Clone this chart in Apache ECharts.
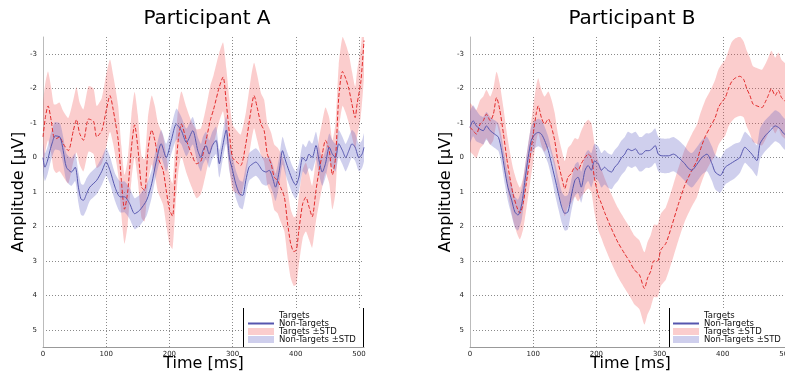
<!DOCTYPE html>
<html>
<head>
<meta charset="utf-8">
<script src="https://cdn.jsdelivr.net/npm/echarts@6/dist/echarts.min.js"></script>
<style>
  html, body { margin: 0; padding: 0; background: #fff; }
  #chart { width: 785px; height: 372px; }
</style>
</head>
<body>
<div id="chart"></div>
<script>
// tick values
const xTicks = [0, 100, 200, 300, 400, 500]
const yTicks = [-3, -2, -1, 0, 1, 2, 3, 4, 5]

// rows: [time ms, mean µV, std µV]
const targetsA = [
  [0, -0.6, 0.95], [4, -1.2, 1.0], [8, -1.5, 1.0], [13, -1.07, 0.95], [17, -0.6, 0.95], [21, -0.55, 1.0],
  [26, -0.6, 1.0], [32, -0.4, 0.95], [40, -0.2, 0.95], [48, -0.78, 0.9], [53, -1.1, 0.95], [58, -0.7, 0.9],
  [64, -0.5, 0.9], [72, -1.12, 0.95], [80, -1.05, 0.95], [85, -0.6, 0.9], [93, -0.78, 0.95], [100, -1.36, 1.05],
  [106, -1.8, 1.05], [111, -1.4, 1.0], [119, -0.5, 1.0], [124, 0.66, 1.0], [129, 1.5, 1.0], [134, 1.0, 0.95],
  [140, -0.3, 0.95], [145, -0.95, 0.95], [150, -0.3, 0.95], [156, 0.86, 0.9], [161, 0.95, 0.9], [166, -0.2, 0.95],
  [172, -0.8, 1.0], [177, -0.5, 1.0], [182, 0.0, 1.0], [190, 0.37, 1.0], [195, 0.95, 1.0], [200, 1.5, 1.0],
  [205, 1.7, 0.95], [209, 0.66, 0.95], [214, -0.5, 0.95], [219, -0.97, 0.95], [227, -0.5, 0.95], [235, -0.1, 0.95],
  [243, 0.18, 1.0], [250, 0.1, 0.95], [258, -0.5, 0.95], [265, -1.1, 1.0], [270, -1.4, 1.0], [279, -2.05, 1.0],
  [285, -2.34, 1.0], [290, -1.6, 1.0], [295, -0.7, 1.0], [300, 0.0, 0.95], [308, 0.15, 0.9], [313, 0.23, 0.9],
  [321, -0.4, 0.9], [329, -1.36, 0.95], [334, -1.8, 0.95], [339, -1.45, 0.95], [345, -0.97, 0.9], [350, -0.78, 0.9],
  [355, -0.1, 0.9], [361, 0.18, 0.9], [366, 0.57, 0.95], [371, 0.66, 0.95], [376, 0.86, 1.0], [382, 1.15, 1.0],
  [387, 1.9, 1.0], [392, 2.5, 1.0], [397, 2.73, 1.0], [401, 2.68, 1.0], [405, 2.1, 1.0], [411, 1.34, 1.0],
  [416, 1.15, 1.0], [421, 1.43, 0.95], [426, 1.72, 0.9], [432, 0.95, 0.9], [437, 0.37, 0.95], [442, -0.1, 0.95],
  [447, -0.5, 0.95], [453, -0.2, 0.95], [458, 0.5, 1.0], [463, 0.0, 1.0], [468, -1.74, 0.95], [474, -2.5, 1.0],
  [479, -2.3, 1.0], [484, -2.0, 1.0], [489, -1.55, 0.95], [494, -1.16, 0.9], [497, -1.55, 0.95], [503, -2.2, 1.0],
  [508, -3.4, 1.0]
]

const nonTargetsA = [
  [0, 0.0, 0.4], [3, 0.28, 0.4], [7, 0.1, 0.4], [11, -0.2, 0.4], [15, -0.45, 0.4], [19, -0.63, 0.4],
  [27, -0.59, 0.4], [32, -0.2, 0.4], [37, 0.28, 0.4], [45, 0.42, 0.4], [51, 0.28, 0.4], [56, 0.86, 0.45],
  [60, 1.2, 0.45], [64, 1.24, 0.45], [69, 1.05, 0.45], [74, 0.86, 0.4], [85, 0.66, 0.4], [93, 0.4, 0.4],
  [100, 0.13, 0.4], [106, 0.37, 0.4], [114, 0.86, 0.4], [122, 1.14, 0.45], [129, 1.14, 0.45], [137, 1.33, 0.45],
  [145, 1.63, 0.45], [153, 1.53, 0.45], [164, 1.24, 0.45], [172, 0.76, 0.4], [179, 0.13, 0.4], [187, -0.4, 0.4],
  [195, 0.0, 0.4], [203, -0.5, 0.4], [211, -0.97, 0.45], [219, -0.78, 0.4], [227, -0.44, 0.4], [237, -0.78, 0.4],
  [245, -0.2, 0.4], [250, 0.0, 0.4], [253, -0.2, 0.4], [258, -0.35, 0.4], [263, -0.1, 0.4], [268, -0.35, 0.4],
  [274, -0.5, 0.4], [279, 0.18, 0.4], [284, -0.3, 0.4], [290, -0.8, 0.4], [295, 0.0, 0.4], [300, 0.37, 0.4],
  [305, 0.76, 0.4], [311, 1.05, 0.4], [316, 1.1, 0.4], [321, 0.66, 0.4], [326, 0.28, 0.4], [332, 0.18, 0.4],
  [337, 0.13, 0.4], [342, 0.23, 0.4], [347, 0.37, 0.4], [353, 0.42, 0.4], [358, 0.37, 0.4], [363, 0.57, 0.4],
  [368, 0.86, 0.4], [374, 0.37, 0.4], [379, -0.2, 0.4], [384, 0.1, 0.4], [389, 0.37, 0.4], [395, 0.66, 0.4],
  [400, 0.8, 0.4], [405, 0.57, 0.4], [411, 0.0, 0.4], [416, 0.1, 0.4], [421, -0.1, 0.4], [426, 0.0, 0.4],
  [432, -0.35, 0.4], [437, 0.1, 0.4], [442, 0.42, 0.4], [447, 0.18, 0.4], [453, -0.3, 0.4], [458, -0.1, 0.4],
  [463, 0.0, 0.4], [468, -0.4, 0.4], [474, -0.2, 0.4], [479, 0.0, 0.4], [484, -0.2, 0.4], [489, -0.4, 0.4],
  [494, -0.3, 0.4], [500, 0.0, 0.4], [505, -0.1, 0.4], [508, -0.3, 0.4]
]

const targetsB = [
  [0, -0.88, 0.7], [5, -0.78, 0.7], [10, -0.68, 0.7], [16, -0.97, 0.7], [21, -1.07, 0.7], [26, -1.26, 0.7],
  [32, -1.07, 0.7], [37, -1.26, 0.75], [42, -1.74, 0.75], [47, -1.4, 0.75], [53, -0.68, 0.75], [58, 0.0, 0.75],
  [63, 0.57, 0.75], [68, 1.05, 0.75], [74, 1.43, 0.75], [79, 1.62, 0.75], [84, 1.34, 0.75], [89, 0.76, 0.75],
  [95, 0.0, 0.75], [100, -0.68, 0.8], [105, -1.3, 0.8], [108, -1.5, 0.8], [113, -1.16, 0.8], [118, -0.97, 0.8],
  [124, -1.12, 0.8], [129, -0.88, 0.8], [134, -0.5, 0.8], [139, 0.1, 0.8], [145, 0.57, 0.8], [150, 0.9, 0.8],
  [155, 0.57, 0.85], [160, 0.47, 0.85], [166, 0.28, 0.85], [171, 0.37, 0.9], [176, 0.18, 0.95], [182, 0.0, 1.0],
  [187, -0.1, 1.0], [192, 0.0, 1.0], [197, 0.6, 1.0], [203, 1.1, 1.0], [208, 1.34, 1.0], [213, 1.59, 1.0],
  [224, 2.07, 1.0], [234, 2.46, 1.0], [245, 2.8, 1.0], [252, 3.0, 1.0], [260, 3.26, 1.0], [268, 3.4, 1.0],
  [276, 3.8, 1.05], [281, 3.5, 1.05], [286, 3.3, 1.05], [291, 3.0, 1.05], [297, 3.0, 1.05], [302, 2.68, 1.05],
  [310, 2.49, 1.05], [319, 2.0, 1.05], [330, 1.34, 1.05], [340, 0.8, 1.05], [351, 0.37, 1.05], [359, 0.1, 1.05],
  [364, -0.2, 1.05], [372, -0.6, 1.05], [380, -0.88, 1.05], [388, -1.16, 1.1], [393, -1.45, 1.1], [398, -1.6, 1.1],
  [404, -1.74, 1.1], [409, -2.0, 1.1], [414, -2.2, 1.15], [419, -2.3, 1.15], [427, -2.36, 1.15], [433, -2.27, 1.1],
  [438, -2.0, 1.1], [443, -1.8, 1.1], [448, -1.55, 1.1], [454, -1.5, 1.1], [462, -1.45, 1.1], [467, -1.6, 1.1],
  [472, -1.8, 1.1], [477, -2.0, 1.1], [483, -1.8, 1.1], [488, -1.95, 1.1], [493, -1.74, 1.1], [498, -1.65, 1.1],
  [503, -1.55, 1.1], [508, -1.5, 1.1]
]

const nonTargetsB = [
  [0, -0.88, 0.45], [5, -1.07, 0.45], [10, -0.92, 0.45], [16, -0.82, 0.4], [21, -0.78, 0.4], [26, -0.92, 0.4],
  [32, -0.78, 0.4], [39, -0.68, 0.4], [45, -0.59, 0.4], [50, -0.2, 0.4], [55, 0.37, 0.4], [60, 0.86, 0.4],
  [66, 1.24, 0.45], [71, 1.58, 0.45], [76, 1.67, 0.45], [82, 1.34, 0.45], [87, 0.66, 0.4], [92, 0.0, 0.4],
  [97, -0.5, 0.4], [103, -0.68, 0.4], [108, -0.73, 0.4], [113, -0.68, 0.4], [118, -0.5, 0.4], [124, -0.2, 0.4],
  [129, 0.18, 0.4], [134, 0.57, 0.45], [140, 1.05, 0.45], [145, 1.43, 0.45], [150, 1.62, 0.5], [155, 1.58, 0.5],
  [160, 1.14, 0.45], [166, 0.66, 0.45], [171, 0.57, 0.45], [176, 0.86, 0.45], [182, 0.37, 0.45], [187, 0.23, 0.45],
  [192, 0.37, 0.5], [197, 0.1, 0.5], [203, 0.18, 0.5], [208, 0.37, 0.5], [213, 0.28, 0.5], [218, 0.37, 0.5],
  [224, 0.42, 0.5], [229, 0.28, 0.5], [234, 0.18, 0.5], [240, 0.0, 0.5], [245, -0.1, 0.5], [250, -0.25, 0.5],
  [256, -0.2, 0.5], [262, -0.25, 0.5], [268, -0.1, 0.5], [272, -0.1, 0.5], [278, -0.2, 0.5], [283, -0.2, 0.5],
  [288, -0.25, 0.5], [293, -0.35, 0.5], [298, -0.1, 0.5], [304, -0.05, 0.5], [314, -0.05, 0.5], [322, -0.1, 0.5],
  [330, 0.0, 0.5], [340, 0.18, 0.5], [345, 0.3, 0.5], [351, 0.37, 0.5], [359, 0.2, 0.5], [367, 0.0, 0.5],
  [375, -0.1, 0.5], [383, 0.18, 0.5], [388, 0.42, 0.5], [396, 0.52, 0.5], [404, 0.28, 0.5], [412, 0.18, 0.5],
  [419, 0.1, 0.5], [427, 0.0, 0.45], [435, -0.3, 0.45], [441, -0.2, 0.45], [446, -0.1, 0.45], [454, 0.09, 0.45],
  [459, -0.4, 0.45], [467, -0.63, 0.45], [475, -0.78, 0.45], [483, -0.92, 0.45], [490, -0.85, 0.45], [498, -0.68, 0.45],
  [503, -0.75, 0.45], [508, -0.8, 0.45]
]

const FONT = 'DejaVu Sans'
const RED = '#e12a2a'
const BLUE = '#5656ae'
const PINK = 'rgba(240, 70, 70, 0.27)'
const LAVENDER = 'rgba(95, 95, 195, 0.3)'

const chart = echarts.init(document.getElementById('chart'))

function lineSeries(name, gi, rows, color, dash) {
  return {
    type: 'line',
    name: name,
    xAxisIndex: gi,
    yAxisIndex: gi,
    data: rows.map(r => [r[0], r[1]]),
    symbol: 'none',
    smooth: 0.25,
    lineStyle: { color: color, width: 1, type: dash },
    itemStyle: { color: color },
    z: 5,
    silent: true
  }
}

function bandSeries(name, gi, rows, color) {
  const data = rows.map(r => [r[0], r[1] - r[2], r[1] + r[2]])
  return {
    type: 'custom',
    name: name,
    xAxisIndex: gi,
    yAxisIndex: gi,
    data: data,
    encode: { x: 0, y: [1, 2] },
    itemStyle: { color: color },
    clip: true,
    silent: true,
    z: 2,
    renderItem: function (params, api) {
      if (params.dataIndex !== 0) return
      const upper = data.map(d => api.coord([d[0], d[2]]))
      const lower = data.map(d => api.coord([d[0], d[1]])).reverse()
      return {
        type: 'polygon',
        shape: { points: upper.concat(lower), smooth: 0.2 },
        style: { fill: color }
      }
    }
  }
}

function xAxis(gi) {
  return {
    gridIndex: gi,
    type: 'value',
    min: 0,
    max: 508,
    axisLine: { show: true, onZero: false, lineStyle: { color: '#999' } },
    axisTick: { show: false, customValues: xTicks },
    axisLabel: { customValues: xTicks, fontSize: 7, color: '#222', margin: 4, fontFamily: FONT },
    splitLine: { show: true, lineStyle: { color: '#8a8a8a', type: [1, 2], width: 1 } },
    name: 'Time [ms]',
    nameLocation: 'middle',
    nameGap: 9,
    nameMoveOverlap: false,
    nameTextStyle: { fontSize: 16, color: '#000', fontFamily: FONT, verticalAlign: 'top' }
  }
}

function yAxis(gi) {
  return {
    gridIndex: gi,
    type: 'value',
    inverse: true,
    min: -3.5,
    max: 5.5,
    axisLine: { show: true, onZero: false, lineStyle: { color: '#bbb' } },
    axisTick: { show: false, customValues: yTicks },
    axisLabel: { customValues: yTicks, fontSize: 7, color: '#222', margin: 6, fontFamily: FONT },
    splitLine: { show: true, lineStyle: { color: '#8a8a8a', type: [1, 2], width: 1 } },
    name: 'Amplitude [μV]',
    nameLocation: 'middle',
    nameGap: 16,
    nameMoveOverlap: false,
    nameTextStyle: { fontSize: 16, color: '#000', fontFamily: FONT }
  }
}

const legendItems = [
  { name: 'Targets', icon: 'none' },
  { name: 'Non-Targets', icon: 'path://M0,0h26v2h-26z' },
  { name: 'Targets ±STD', icon: 'rect' },
  { name: 'Non-Targets ±STD', icon: 'rect' }
]

function legend(left) {
  return {
    left: left,
    top: 311,
    orient: 'vertical',
    padding: 0,
    itemWidth: 26,
    itemHeight: 7,
    itemGap: -1,
    selectedMode: false,
    z: 20,
    data: legendItems,
    textStyle: { fontSize: 8.5, lineHeight: 7, color: '#111', fontFamily: FONT }
  }
}

chart.setOption({
  animation: false,
  textStyle: { fontFamily: FONT },
  title: [
    { text: 'Participant A', left: 207, top: 9, textAlign: 'center', padding: 0,
      textStyle: { fontSize: 20, fontWeight: 'normal', color: '#000', fontFamily: FONT } },
    { text: 'Participant B', left: 632, top: 9, textAlign: 'center', padding: 0,
      textStyle: { fontSize: 20, fontWeight: 'normal', color: '#000', fontFamily: FONT } }
  ],
  grid: [
    { left: 43, top: 37, width: 321, height: 310, outerBoundsMode: 'none', containLabel: false },
    { left: 470, top: 37, width: 321, height: 310, outerBoundsMode: 'none', containLabel: false }
  ],
  xAxis: [xAxis(0), xAxis(1)],
  yAxis: [yAxis(0), yAxis(1)],
  legend: [legend(248), legend(673)],
  graphic: [
    { type: 'rect', z: 10, shape: { x: 243, y: 308, width: 120, height: 39 }, style: { fill: '#fff' } },
    { type: 'line', z: 11, shape: { x1: 243.5, y1: 308, x2: 243.5, y2: 347 }, style: { stroke: '#000', lineWidth: 1 } },
    { type: 'line', z: 11, shape: { x1: 363.5, y1: 308, x2: 363.5, y2: 347 }, style: { stroke: '#000', lineWidth: 1 } },
    { type: 'rect', z: 10, shape: { x: 669, y: 308, width: 120, height: 39 }, style: { fill: '#fff' } },
    { type: 'line', z: 11, shape: { x1: 669.5, y1: 308, x2: 669.5, y2: 347 }, style: { stroke: '#000', lineWidth: 1 } }
  ],
  series: [
    bandSeries('Targets ±STD', 0, targetsA, PINK),
    bandSeries('Non-Targets ±STD', 0, nonTargetsA, LAVENDER),
    lineSeries('Targets', 0, targetsA, RED, [4, 2]),
    lineSeries('Non-Targets', 0, nonTargetsA, BLUE, 'solid'),
    bandSeries('Targets ±STD', 1, targetsB, PINK),
    bandSeries('Non-Targets ±STD', 1, nonTargetsB, LAVENDER),
    lineSeries('Targets', 1, targetsB, RED, [4, 2]),
    lineSeries('Non-Targets', 1, nonTargetsB, BLUE, 'solid')
  ]
})
</script>
</body>
</html>
